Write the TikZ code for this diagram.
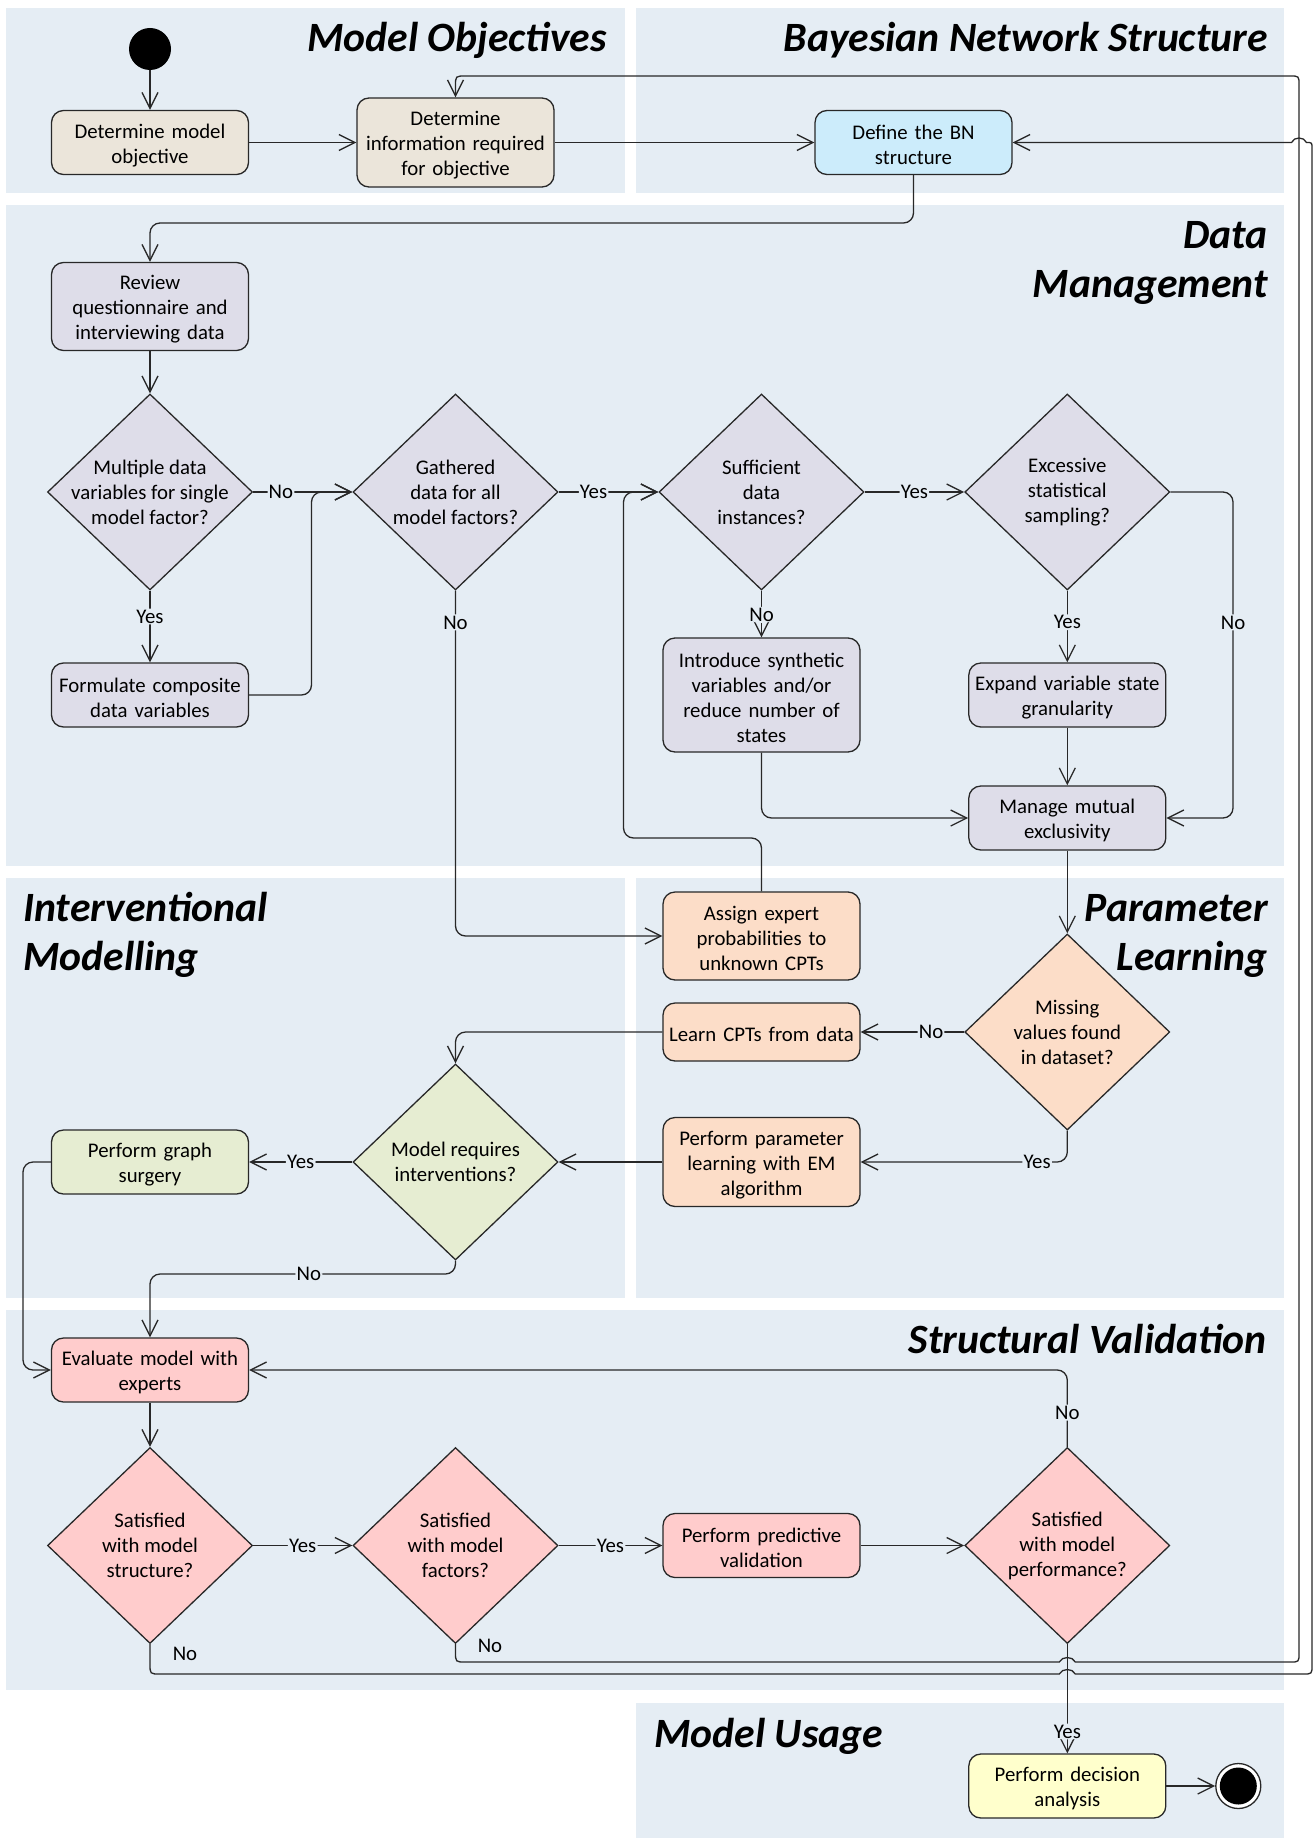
\documentclass[tikz,border=0pt]{standalone}
\usepackage{fontspec}
\setmainfont{Carlito}
\usetikzlibrary{arrows.meta,shapes.geometric}
\definecolor{lanebg}{RGB}{229,237,244}
\definecolor{cmo}{RGB}{235,229,218}
\definecolor{cbn}{RGB}{204,236,251}
\definecolor{cdm}{RGB}{222,221,233}
\definecolor{cpl}{RGB}{252,221,200}
\definecolor{cim}{RGB}{230,237,210}
\definecolor{csv}{RGB}{255,204,204}
\definecolor{cmu}{RGB}{255,255,204}
\definecolor{edgec}{RGB}{40,40,40}
\newcommand{\mynodefont}{\fontsize{20.8}{25}\selectfont}
\newcommand{\mytitlefont}{\fontsize{41.7}{49}\selectfont\bfseries\itshape}
\tikzset{
  lanebox/.style={fill=lanebg, draw=none},
  act/.style={draw=edgec, line width=1.3pt, rounded corners=12pt, minimum width=197pt,
    text width=190pt, align=center, inner sep=0pt, font=\mynodefont,
    execute at begin node={\rule{0pt}{20pt}}},
  dec/.style={draw=edgec, line width=1.3pt, diamond, minimum width=205pt,
    minimum height=196pt, inner sep=0pt},
  dtext/.style={font=\mynodefont, align=center, inner sep=0pt},
  lbl/.style={fill=lanebg, inner sep=1.2pt, font=\mynodefont},
  lbltxt/.style={inner sep=0pt, font=\mynodefont},
  conn/.style={draw=edgec, line width=1.3pt, -{Straight Barb[length=16pt,width=16pt]},
    rounded corners=10pt},
  loopconn/.style={draw=edgec, line width=1.3pt, -{Straight Barb[length=16pt,width=16pt]},
    sharp corners},
  ttl/.style={font=\mytitlefont, inner sep=0pt},
}
\begin{document}
\begin{tikzpicture}[x=1pt,y=-1pt]
\useasboundingbox (0,0) rectangle (1314,1838);
\fill[white] (0,0) rectangle (1314,1838);
% lanes
\fill[lanebox] (6,8) rectangle (625,193);
\fill[lanebox] (635.5,8) rectangle (1284,193);
\fill[lanebox] (6,205) rectangle (1284,866);
\fill[lanebox] (6,878) rectangle (625,1298);
\fill[lanebox] (635.5,878) rectangle (1284,1298);
\fill[lanebox] (6,1310) rectangle (1284,1690);
\fill[lanebox] (635.5,1703) rectangle (1284,1838);
% titles
\node[ttl, anchor=base east] (tmo) at (607,51.7) {Model Objectives};
\node[ttl, anchor=base east] (tbn) at (1268,51.7) {Bayesian Network Structure};
\node[ttl, anchor=base east] (tdm1) at (1268,248) {Data};
\node[ttl, anchor=base east] (tdm2) at (1268,297) {Management};
\node[ttl, anchor=base west] (tim1) at (23,921.7) {Interventional};
\node[ttl, anchor=base west] (tim2) at (23,970) {Modelling};
\node[ttl, anchor=base east] (tpl1) at (1268,921.7) {Parameter};
\node[ttl, anchor=base east] (tpl2) at (1268,970) {Learning};
\node[ttl, anchor=base east] (tsv) at (1267,1353) {Structural Validation};
\node[ttl, anchor=base west] (tmu) at (654,1747) {Model Usage};
% nodes
\node[circle, fill=black, minimum size=42pt, inner sep=0pt] (start) at (150,49) {};
\node[act, fill=cmo, minimum height=64pt] (obj) at (150,142.5) {Determine model\\objective};
\node[act, fill=cmo, minimum height=89pt] (info) at (455.5,142.5) {Determine\\information required\\for objective};
\node[act, fill=cbn, minimum height=64pt] (bn) at (913.5,142.5) {Define the BN\\structure};
\node[act, fill=cdm, minimum height=88pt] (rev) at (150,306.5) {Review\\questionnaire and\\interviewing data};
\node[dec, fill=cdm, label={[dtext]center:{Multiple data\\variables for single\\model factor?}}] (d1) at (150,492) {};
\node[dec, fill=cdm, label={[dtext]center:{Gathered\\data for all\\model factors?}}] (d2) at (455.5,492) {};
\node[dec, fill=cdm, label={[dtext]center:{Sufficient\\data\\instances?}}] (d3) at (761.5,492) {};
\node[dec, fill=cdm, label={[dtext]center:{Excessive\\statistical\\sampling?}}] (d4) at (1067.3,492) {};
\node[act, fill=cdm, minimum height=64pt] (form) at (150,695) {Formulate composite\\data variables};
\node[act, fill=cdm, minimum height=114pt] (intro) at (761.5,695) {Introduce synthetic\\variables and/or\\reduce number of\\states};
\node[act, fill=cdm, minimum height=64pt] (expand) at (1067.3,695) {Expand variable state\\granularity};
\node[act, fill=cdm, minimum height=64pt] (manage) at (1067.3,818) {Manage mutual\\exclusivity};
\node[act, fill=cpl, minimum height=88pt] (assign) at (761.5,936) {Assign expert\\probabilities to\\unknown CPTs};
\node[dec, fill=cpl, label={[dtext]center:{Missing\\values found\\in dataset?}}] (d5) at (1067.3,1032) {};
\node[act, fill=cpl, minimum height=58pt] (learn) at (761.5,1032) {Learn CPTs from data};
\node[act, fill=cpl, minimum height=89pt] (param) at (761.5,1162) {Perform parameter\\learning with EM\\algorithm};
\node[dec, fill=cim, label={[dtext]center:{Model requires\\interventions?}}] (d6) at (455.5,1162) {};
\node[act, fill=cim, minimum height=64pt] (graph) at (150,1162) {Perform graph\\surgery};
\node[act, fill=csv, minimum height=64pt] (eval) at (150,1370) {Evaluate model with\\experts};
\node[dec, fill=csv, label={[dtext]center:{Satisfied\\with model\\structure?}}] (d7) at (150,1545.5) {};
\node[dec, fill=csv, label={[dtext]center:{Satisfied\\with model\\factors?}}] (d8) at (455.5,1545.5) {};
\node[act, fill=csv, minimum height=64pt] (pred) at (761.5,1545.5) {Perform predictive\\validation};
\node[dec, fill=csv, label={[dtext]center:{Satisfied\\with model\\performance?}}] (d9) at (1067.3,1545.5) {};
\node[act, fill=cmu, minimum height=64pt] (analysis) at (1067.3,1786) {Perform decision\\analysis};
\node[circle, draw=edgec, line width=1.3pt, fill=white, minimum size=45pt, inner sep=0pt] (end) at (1238.3,1786) {};
\fill[black] (end.center) circle[radius=18.5pt];
% connectors
\draw[conn] (start) -- (obj);
\draw[conn] (obj) -- (info);
\draw[conn] (info) -- (bn);
\draw[conn] (bn.south) -- (913.5,223) -- (150,223) -- (rev.north);
\draw[conn] (rev) -- (d1);
\draw[conn] (d1.east) -- node[lbl, pos=0.28]{No} (d2.west);
\draw[conn] (form.east) -- (311.5,695) -- (311.5,492) -- (d2.west);
\draw[conn] (d1.south) -- node[lbl, pos=0.36]{Yes} (form.north);
\draw[conn] (d2.east) -- node[lbl, pos=0.35]{Yes} (d3.west);
\draw[conn] (d2.south) -- node[lbl, pos=0.092]{No} (455.5,936) -- (assign.west);
\draw[conn] (assign.north) -- (761.5,838) -- (623.5,838) -- (623.5,492) -- (d3.west);
\draw[conn] (d3.east) -- node[lbl, pos=0.5]{Yes} (d4.west);
\draw[conn] (d3.south) -- node[lbl, pos=0.52]{No} (intro.north);
\draw[conn] (intro.south) -- (761.5,818) -- (manage.west);
\draw[conn] (d4.south) -- node[lbl, pos=0.44]{Yes} (expand.north);
\draw[conn] (expand) -- (manage);
\draw[conn] (d4.east) -- (1233,492) -- node[lbl, pos=0.4]{No} (1233,818) -- (manage.east);
\draw[conn] (manage) -- (d5);
\draw[conn] (d5.west) -- node[lbl, pos=0.32]{No} (learn.east);
\draw[conn] (d5.south) -- (1067.3,1162) -- node[lbl, pos=0.146]{Yes} (param.east);
\draw[conn] (learn.west) -- (455.5,1032) -- (d6.north);
\draw[conn] (param.west) -- (d6.east);
\draw[conn] (d6.west) -- node[lbl, pos=0.5]{Yes} (graph.east);
\draw[conn] (graph.west) -- (23,1162) -- (23,1370) -- (eval.west);
\draw[conn] (d6.south) -- (455.5,1274) -- node[lbl, pos=0.48]{No} (150,1274) -- (eval.north);
\draw[conn] (eval) -- (d7);
\draw[conn] (d7.east) -- node[lbl, pos=0.5]{Yes} (d8.west);
\draw[conn] (d8.east) -- node[lbl, pos=0.5]{Yes} (pred.west);
\draw[conn] (pred) -- (d9);
\draw[conn] (d9.north) -- node[lbl, pos=0.445]{No} (1067.3,1370) -- (eval.east);
\draw[conn] (d9.south) -- node[lbl, pos=0.8]{Yes} (analysis.north);
\draw[conn] (analysis) -- (end);
% return loops with line hops
\draw[loopconn] (d8.south) node[lbltxt, at={(490,1646)}]{No}
  -- (455.5,1652) .. controls (455.5,1662) .. (465.5,1662)
  -- (1059.3,1662) .. controls (1062,1656) and (1072.6,1656) .. (1075.3,1662)
  -- (1290,1662) .. controls (1299,1662) .. (1299,1653)
  -- (1299,85) .. controls (1299,76) .. (1290,76)
  -- (465.5,76) .. controls (455.5,76) .. (455.5,86)
  -- (info.north);
\draw[loopconn] (d7.south) node[lbltxt, at={(185,1654)}]{No}
  -- (150,1664) .. controls (150,1674) .. (160,1674)
  -- (1059.3,1674) .. controls (1062,1668) and (1072.6,1668) .. (1075.3,1674)
  -- (1303,1674) .. controls (1312,1674) .. (1312,1665)
  -- (1312,148.5) .. controls (1312,142.5) .. (1306.5,142.5)
  .. controls (1304,136.5) and (1294,136.5) .. (1291.5,142.5)
  -- (bn.east);
\end{tikzpicture}
\end{document}
